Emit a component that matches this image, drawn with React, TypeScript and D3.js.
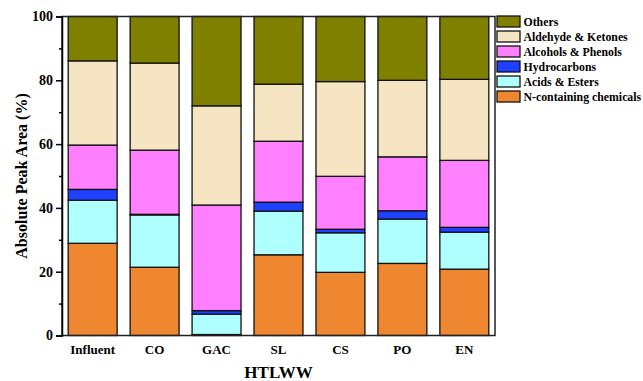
import React, { useEffect, useRef } from "react";
import * as d3 from "d3";

// samples along the x axis
const categories = ["Influent", "CO", "GAC", "SL", "CS", "PO", "EN"];

// percentage of each compound group, one value per sample
const nContaining = [28.9, 21.4, 0.3, 25.3, 19.8, 22.6, 20.8];
const acidsEsters = [13.5, 16.4, 6.4, 13.7, 12.4, 13.9, 11.6];
const hydrocarbons = [3.4, 0.2, 1.1, 2.8, 1.1, 2.6, 1.5];
const alcoholsPhenols = [13.9, 20.1, 33.1, 19.1, 16.6, 16.9, 21.0];
const aldehydeKetones = [26.4, 27.3, 31.1, 17.9, 29.7, 24.0, 25.4];
const others = [13.9, 14.6, 28.0, 21.2, 20.4, 20.0, 19.7];

const seriesNames = [
  "N-containing chemicals",
  "Acids & Esters",
  "Hydrocarbons",
  "Alcohols & Phenols",
  "Aldehyde & Ketones",
  "Others",
];
const seriesValues = [nContaining, acidsEsters, hydrocarbons, alcoholsPhenols, aldehydeKetones, others];
const colors = ["#EF8630", "#B0FFFF", "#1E40FF", "#FF80FF", "#F6E5C3", "#808000"];

const yTicks = [0, 20, 40, 60, 80, 100];
const yMinorTicks = [10, 30, 50, 70, 90];

export default function App() {
  const ref = useRef<SVGSVGElement>(null);

  useEffect(() => {
    const svg = d3.select(ref.current);
    svg.selectAll("*").remove();

    const margin = { top: 16.5, left: 62, right: 148, bottom: 45.5 };
    const W = 643;
    const H = 381;
    const font = "Liberation Serif, Times New Roman, Times, DejaVu Serif, serif";

    const x = d3.scaleBand().domain(categories).range([margin.left, W - margin.right]).paddingInner(0.21).paddingOuter(0.1);
    const y = d3.scaleLinear().domain([0, 100]).range([H - margin.bottom, margin.top]);

    // build table for the stack
    const table = categories.map((c, i) => {
      const row: any = { cat: c };
      seriesNames.forEach((s, j) => (row[s] = seriesValues[j][i]));
      return row;
    });
    const stacked = d3.stack().keys(seriesNames)(table);

    const g = svg.append("g");
    g.selectAll("g.layer")
      .data(stacked)
      .join("g")
      .attr("class", "layer")
      .attr("fill", (d, i) => colors[i])
      .selectAll("rect")
      .data((d) => d)
      .join("rect")
      .attr("x", (d: any) => x(d.data.cat)!)
      .attr("width", x.bandwidth())
      .attr("y", (d) => y(d[1]))
      .attr("height", (d) => y(d[0]) - y(d[1]))
      .attr("stroke", "#111")
      .attr("stroke-width", 1.3);

    // frame
    svg.append("rect")
      .attr("x", margin.left)
      .attr("y", margin.top)
      .attr("width", W - margin.right - margin.left)
      .attr("height", H - margin.bottom - margin.top)
      .attr("fill", "none")
      .attr("stroke", "#222")
      .attr("stroke-width", 1.5);

    // y axis
    const yAxis = svg.append("g").attr("transform", `translate(${margin.left},0)`)
      .call(d3.axisLeft(y).tickValues(yTicks).tickSize(6).tickPadding(3));
    yAxis.select(".domain").attr("stroke-width", 1.5);
    yAxis.selectAll(".tick line").attr("stroke-width", 1.5);
    yAxis.selectAll("text").style("font-family", font).attr("font-weight", "bold").attr("font-size", 14).attr("fill", "#000");
    svg.append("g").attr("transform", `translate(${margin.left},0)`)
      .call(d3.axisLeft(y).tickValues(yMinorTicks).tickSize(3).tickFormat(() => ""))
      .call((a) => a.select(".domain").remove())
      .selectAll("line").attr("stroke-width", 1.5);

    // x labels
    const xAxis = svg.append("g").attr("transform", `translate(0,${H - margin.bottom})`)
      .call(d3.axisBottom(x).tickSize(0).tickPadding(9));
    xAxis.select(".domain").remove();
    xAxis.selectAll("text").style("font-family", font).attr("font-weight", "bold").attr("font-size", 13).attr("fill", "#000");

    // axis titles
    svg.append("text")
      .attr("x", (margin.left + W - margin.right) / 2)
      .attr("y", 378)
      .attr("text-anchor", "middle")
      .style("font-family", font)
      .attr("font-weight", "bold")
      .attr("font-size", 17)
      .text("HTLWW");
    svg.append("text")
      .attr("transform", `translate(27,${(margin.top + H - margin.bottom) / 2}) rotate(-90)`)
      .attr("text-anchor", "middle")
      .style("font-family", font)
      .attr("font-weight", "bold")
      .attr("font-size", 16)
      .text("Absolute Peak Area (%)");

    // legend, top entry is Others
    const legend = svg.append("g").attr("transform", "translate(497,16)");
    const order = seriesNames.map((s, i) => i).reverse();
    order.forEach((idx, row) => {
      const lg = legend.append("g").attr("transform", `translate(0,${row * 15})`);
      lg.append("rect").attr("width", 23).attr("height", 11).attr("fill", colors[idx]).attr("stroke", "#111").attr("stroke-width", 1.3);
      lg.append("text")
        .attr("x", 26.5)
        .attr("y", 10)
        .style("font-family", font)
        .attr("font-weight", "bold")
        .attr("font-size", 11.8)
        .text(seriesNames[idx]);
    });
  }, []);

  return (
    <svg ref={ref} width={643} height={381} style={{ position: "absolute", left: 0, top: 0, background: "#fff" }} />
  );
}
